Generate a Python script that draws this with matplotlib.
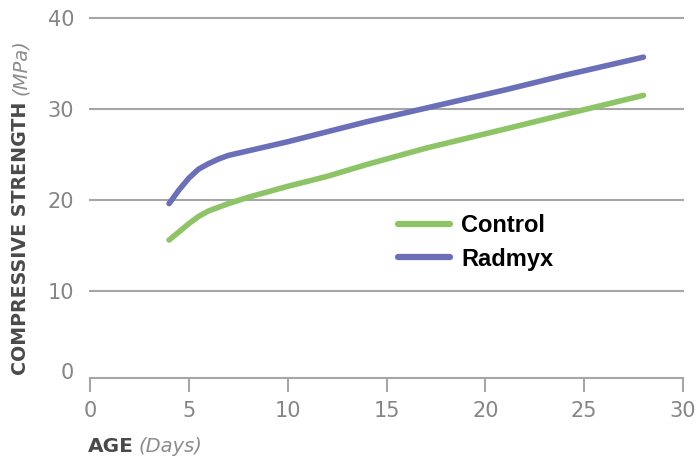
import matplotlib
matplotlib.use("Agg")
import matplotlib.pyplot as plt
from matplotlib.transforms import ScaledTranslation

days = [4, 4.5, 5, 5.5, 6, 6.5, 7, 8, 10, 12, 14, 17, 21, 24, 28]
radmyx = [19.6, 21.1, 22.4, 23.4, 24.0, 24.5, 24.9, 25.4, 26.4, 27.5, 28.6, 30.1, 32.1, 33.7, 35.7]
control = [15.6, 16.5, 17.4, 18.2, 18.8, 19.2, 19.6, 20.3, 21.5, 22.6, 23.9, 25.7, 27.8, 29.4, 31.5]
xticks = [0, 5, 10, 15, 20, 25, 30]
yticks = [0, 10, 20, 30, 40]

fam = ["DejaVu Sans"]
W, H = 698, 466

fig = plt.figure(figsize=(W / 100, H / 100), dpi=100)
ax = fig.add_axes([90 / W, (H - 382) / H, (683 - 90) / W, (382 - 18) / H])
ax.set_xlim(0, 30)
ax.set_ylim(0, 40)

for v in yticks[1:]:
    ax.axhline(v, color="#a6a6a6", lw=1.5, zorder=1, clip_on=False)

ax.plot(days, control, color="#8cc466", lw=4, solid_capstyle="round",
        solid_joinstyle="round", label="Control", zorder=3)
ax.plot(days, radmyx, color="#6a6fb8", lw=4, solid_capstyle="round",
        solid_joinstyle="round", label="Radmyx", zorder=3)

for s in ["top", "right", "left"]:
    ax.spines[s].set_visible(False)
ax.spines["bottom"].set_color("#a6a6a6")
ax.spines["bottom"].set_linewidth(1.5)
ax.spines["bottom"].set_position(("outward", -3))

ax.set_xticks(xticks)
ax.set_yticks(yticks)
ax.tick_params(axis="x", direction="out", length=10, width=1.5, color="#a6a6a6",
               labelsize=15, labelcolor="#858585", pad=7)
ax.tick_params(axis="y", length=0, labelsize=15, labelcolor="#858585", pad=11.5)
for lab in ax.get_xticklabels() + ax.get_yticklabels():
    lab.set_family(fam)
ylabs = ax.get_yticklabels()
ylabs[0].set_transform(ylabs[0].get_transform() + ScaledTranslation(0, 11 / 100, fig.dpi_scale_trans))

fig.text(88 / W, 1 - 446 / H, "AGE", family=fam, fontweight="bold", fontsize=14.5,
         color="#4a4a4a", va="center", ha="left")
fig.text(138 / W, 1 - 446 / H, "(Days)", family=fam, style="italic", fontsize=14,
         color="#8c8c8c", va="center", ha="left")

fig.text(21 / W, 1 - 375 / H, "COMPRESSIVE STRENGTH", family=fam, fontweight="bold",
         fontsize=13.7, color="#4a4a4a", rotation=90, va="bottom", ha="center")
fig.text(21 / W, 1 - 95 / H, "(MPa)", family=fam, style="italic",
         fontsize=14, color="#8c8c8c", rotation=90, va="bottom", ha="center")

leg = ax.legend(loc="upper left", bbox_to_anchor=((398 - 90) / 593, (382 - 214) / 364),
                frameon=False, fontsize=17, handlelength=2.2, handletextpad=0.47,
                labelspacing=0.45, borderpad=0, borderaxespad=0)
for t in leg.get_texts():
    t.set_fontweight("bold")
    t.set_family(["Liberation Sans", "DejaVu Sans"])
for h in leg.get_lines():
    h.set_linewidth(4.5)

fig.savefig("out.png", dpi=100)
